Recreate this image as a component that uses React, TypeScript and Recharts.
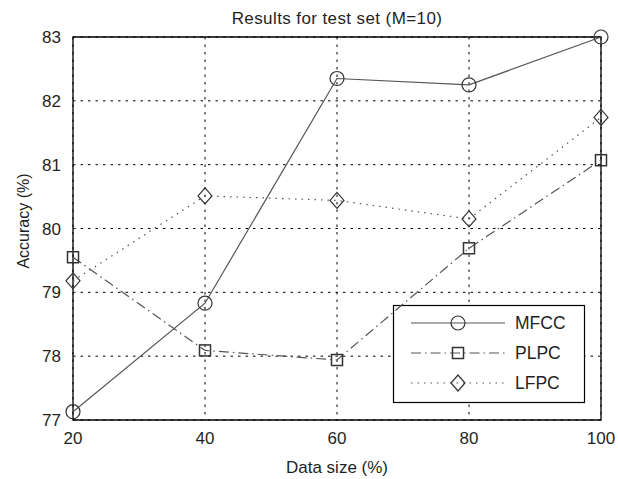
import React from "react";
import {
  LineChart,
  Line,
  XAxis,
  YAxis,
  CartesianGrid,
  ReferenceArea,
} from "recharts";

const dataSizes = [20, 40, 60, 80, 100];
const mfcc = [77.13, 78.83, 82.35, 82.25, 83.0];
const plpc = [79.55, 78.09, 77.94, 79.69, 81.07];
const lfpc = [79.18, 80.51, 80.44, 80.15, 81.74];
const yTicks = [77, 78, 79, 80, 81, 82, 83];

const rows = dataSizes.map((s, i) => ({ size: s, MFCC: mfcc[i], PLPC: plpc[i], LFPC: lfpc[i] }));

const FONT = "'Liberation Sans', Arial, Helvetica, sans-serif";
const INK = "#1f1f1f";
const LINE = "#555";
const MARK = "#333";

const Circle = (p: any) => <circle key={p.key ?? p.index} cx={p.cx} cy={p.cy} r={7} fill="none" stroke={MARK} strokeWidth={1.2} />;
const Square = (p: any) => <rect key={p.key ?? p.index} x={p.cx - 5.5} y={p.cy - 5.5} width={11} height={11} fill="none" stroke={MARK} strokeWidth={1.5} />;
const Diamond = (p: any) => (
  <path key={p.key ?? p.index} d={`M${p.cx},${p.cy - 8} L${p.cx + 7},${p.cy} L${p.cx},${p.cy + 8} L${p.cx - 7},${p.cy} Z`} fill="none" stroke={MARK} strokeWidth={1.2} />
);

const series = [
  { key: "MFCC", dash: undefined, dot: Circle },
  { key: "PLPC", dash: "10 4 1.5 4", dot: Square },
  { key: "LFPC", dash: "1.5 5", dot: Diamond },
];

// legend box drawn inside the plot, lower right
function LegendBox({ x, y }: { x: number; y: number }) {
  return (
    <g transform={`translate(${x},${y})`}>
      <rect x={0.5} y={0.5} width={191} height={97} fill="#fff" stroke="#000" strokeWidth={1.2} />
      {series.map((s, i) => {
        const ly = 18 + i * 30;
        const D = s.dot;
        return (
          <g key={s.key}>
            <line x1={18} x2={112} y1={ly} y2={ly} stroke={LINE} strokeWidth={1.2} strokeDasharray={s.dash} />
            <D cx={65} cy={ly} index={i} />
            <text x={122} y={ly + 6} fontSize={17.5} fontFamily={FONT} fill={INK}>{s.key}</text>
          </g>
        );
      })}
    </g>
  );
}

export default function App() {
  const tick = { fontSize: 17, fontFamily: FONT, fill: INK };
  return (
    <div style={{ position: "fixed", left: 0, top: 0, width: 618, height: 479, background: "#fff" }}>
      <LineChart width={618} height={479} data={rows} margin={{ top: 37, right: 17, bottom: 0, left: 38 }}>
        <CartesianGrid stroke="#000" strokeDasharray="2.5 5" strokeWidth={1} />
        <XAxis
          dataKey="size"
          type="number"
          domain={[20, 100]}
          ticks={dataSizes}
          tickLine={false}
          axisLine={false}
          tick={tick}
          tickMargin={6}
          height={59}
        />
        <YAxis
          type="number"
          domain={[77, 83]}
          ticks={yTicks}
          tickLine={false}
          axisLine={false}
          width={35}
          tick={tick}
          tickMargin={6}
        />
        <ReferenceArea x1={20} x2={100} y1={77} y2={83} fill="none" stroke="#000" strokeWidth={1.3} ifOverflow="visible" />
        {series.map((s) => (
          <Line
            key={s.key}
            dataKey={s.key}
            stroke={LINE}
            strokeWidth={1.2}
            strokeDasharray={s.dash}
            dot={s.dot}
            activeDot={false}
            isAnimationActive={false}
          />
        ))}
        <LegendBox x={393} y={305} />
        <text x={337} y={24} textAnchor="middle" fontSize={17} letterSpacing={0.4} fontFamily={FONT} fill={INK}>Results for test set (M=10)</text>
        <text x={337} y={473} textAnchor="middle" fontSize={17} fontFamily={FONT} fill={INK}>Data size (%)</text>
        <text x={29} y={221} transform="rotate(-90 29 221)" textAnchor="middle" fontSize={16} fontFamily={FONT} fill={INK}>Accuracy (%)</text>
      </LineChart>
    </div>
  );
}
